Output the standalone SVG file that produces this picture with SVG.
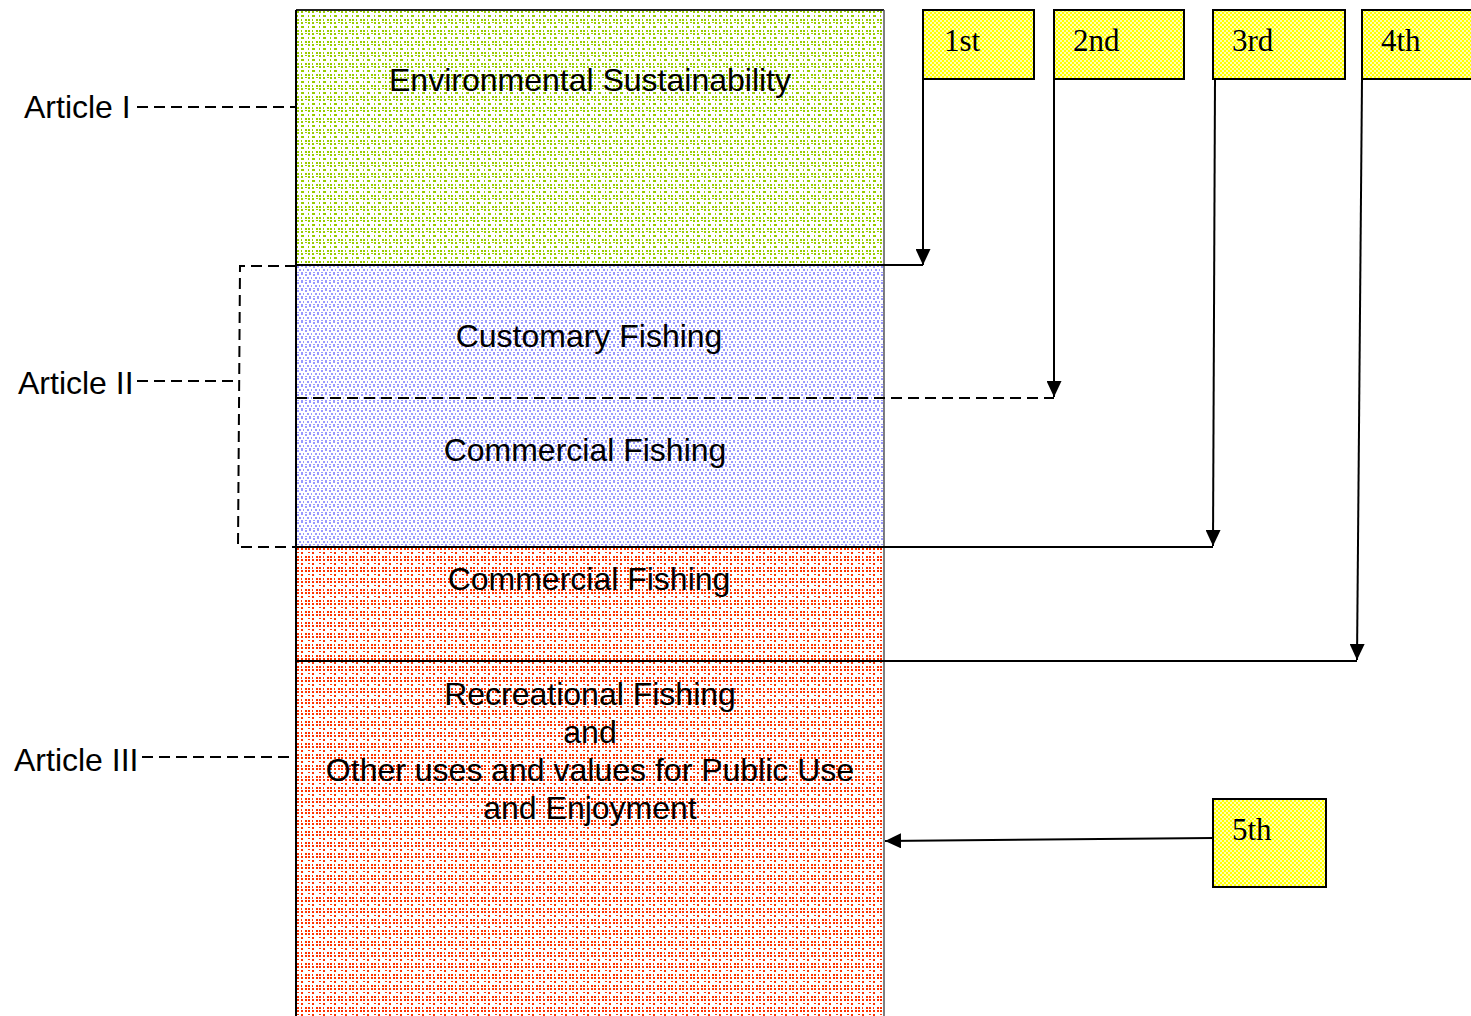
<svg xmlns="http://www.w3.org/2000/svg" width="1471" height="1016" viewBox="0 0 1471 1016">
  <defs>
    <!-- dotted textures for the bands -->
    <pattern id="dotGreen" width="11" height="11" patternUnits="userSpaceOnUse" x="297" y="11">
      <rect width="11" height="11" fill="#ffffff"/>
      <g fill="#99cc00">
        <rect x="0" y="0" width="2" height="2"/><rect x="4" y="0" width="2" height="2"/><rect x="8" y="0" width="2" height="1"/>
        <rect x="0" y="4" width="1" height="2"/><rect x="4" y="4" width="3" height="2"/>
        <rect x="0" y="8" width="2" height="2"/><rect x="4" y="8" width="1" height="2"/><rect x="8" y="8" width="2" height="2"/>
      </g>
    </pattern>
    <pattern id="dotBlue" width="8" height="8" patternUnits="userSpaceOnUse" x="297" y="266">
      <rect width="8" height="8" fill="#ffffff"/>
      <g fill="#9999ff">
        <rect x="0" y="0" width="2" height="2"/><rect x="4" y="0" width="2" height="1"/>
        <rect x="2" y="3" width="2" height="2"/><rect x="6" y="3" width="1" height="2"/>
        <rect x="0" y="6" width="2" height="1"/><rect x="4" y="6" width="2" height="2"/>
      </g>
    </pattern>
    <pattern id="dotRed" width="11" height="11" patternUnits="userSpaceOnUse" x="297" y="548">
      <rect width="11" height="11" fill="#ffffff"/>
      <g fill="#ff3300">
        <rect x="0" y="0" width="2" height="2"/><rect x="4" y="0" width="2" height="2"/><rect x="8" y="0" width="2" height="2"/>
        <rect x="0" y="4" width="2" height="1"/><rect x="4" y="4" width="2" height="2"/>
        <rect x="0" y="8" width="2" height="2"/><rect x="4" y="8" width="1" height="2"/><rect x="8" y="8" width="2" height="2"/>
      </g>
    </pattern>
    <pattern id="checkYellow" width="4" height="4" patternUnits="userSpaceOnUse">
      <rect width="4" height="4" fill="#ffff00"/>
      <rect x="0" y="0" width="2" height="2" fill="#ffffb0"/>
      <rect x="2" y="2" width="2" height="2" fill="#ffffb0"/>
    </pattern>
    <marker id="tip" viewBox="0 0 16 15" refX="16" refY="7.5" markerWidth="16" markerHeight="15" markerUnits="userSpaceOnUse" orient="auto">
      <path d="M0,0 L16,7.5 L0,15 z" fill="#000"/>
    </marker>
  </defs>
  <style>
    .band { stroke: none; }
    .label { font-family: "Liberation Sans", Arial, sans-serif; font-size: 32px; fill: #000; }
    .mid { text-anchor: middle; }
    .flagText { font-family: "Liberation Serif", "Times New Roman", serif; font-size: 31px; fill: #000; }
    .flag { fill: url(#checkYellow); stroke: #000; stroke-width: 2; }
    .solid { fill: none; stroke: #000; stroke-width: 2; }
    .dash { fill: none; stroke: #000; stroke-width: 2; stroke-dasharray: 11 6; }
  </style>

  <rect width="1471" height="1016" fill="#ffffff"/>

  <!-- priority column -->
  <g id="band-environment">
    <rect class="band" x="296" y="10" width="588" height="254" fill="url(#dotGreen)"/>
    <text class="label mid" x="590" y="91">Environmental Sustainability</text>
  </g>
  <g id="band-customary">
    <rect class="band" x="296" y="265" width="588" height="133" fill="url(#dotBlue)"/>
    <text class="label mid" x="589" y="347">Customary Fishing</text>
  </g>
  <g id="band-commercial-2">
    <rect class="band" x="296" y="398" width="588" height="149" fill="url(#dotBlue)"/>
    <text class="label mid" x="585" y="461">Commercial Fishing</text>
  </g>
  <g id="band-commercial-3">
    <rect class="band" x="296" y="547" width="588" height="114" fill="url(#dotRed)"/>
    <text class="label mid" x="589" y="590">Commercial Fishing</text>
  </g>
  <g id="band-recreational">
    <rect class="band" x="296" y="661" width="588" height="355" fill="url(#dotRed)"/>
    <text class="label mid" x="590" y="705">Recreational Fishing</text>
    <text class="label mid" x="590" y="743">and</text>
    <text class="label mid" x="590" y="781">Other uses and values for Public Use</text>
    <text class="label mid" x="590" y="819">and Enjoyment</text>
  </g>

  <!-- column outline -->
  <g id="column-frame">
    <line x1="296" y1="10" x2="884" y2="10" stroke="#222" stroke-width="2"/>
    <line x1="296" y1="10" x2="296" y2="1016" stroke="#000" stroke-width="2"/>
    <line x1="884" y1="10" x2="884" y2="1016" stroke="#555" stroke-width="1.5"/>
  </g>

  <!-- article labels -->
  <g id="article-1">
    <text class="label" x="24" y="118">Article I</text>
  </g>
  <g id="article-2">
    <text class="label" x="18" y="394">Article II</text>
  </g>
  <g id="article-3">
    <text class="label" x="14" y="771">Article III</text>
  </g>

  <!-- priority flags -->
  <g id="flag-1">
    <rect class="flag" x="923" y="10" width="111" height="69"/>
    <text class="flagText" x="944" y="51">1st</text>
  </g>
  <g id="flag-2">
    <rect class="flag" x="1054" y="10" width="130" height="69"/>
    <text class="flagText" x="1073" y="51">2nd</text>
  </g>
  <g id="flag-3">
    <rect class="flag" x="1213" y="10" width="132" height="69"/>
    <text class="flagText" x="1232" y="51">3rd</text>
  </g>
  <g id="flag-4">
    <rect class="flag" x="1362" y="10" width="112" height="69"/>
    <text class="flagText" x="1381" y="51">4th</text>
  </g>
  <g id="flag-5">
    <rect class="flag" x="1213" y="799" width="113" height="88"/>
    <text class="flagText" x="1232" y="840">5th</text>
  </g>

  <g id="connectors">
    <!-- article brackets -->
    <line class="dash" x1="137" y1="107" x2="296" y2="107"/>
    <line class="dash" x1="137" y1="381" x2="239" y2="381"/>
    <path class="dash" d="M296,266 H240 L238,547 H296"/>
    <line class="dash" x1="142" y1="757" x2="296" y2="757"/>

    <!-- band boundaries -->
    <line class="solid" x1="296" y1="265" x2="923" y2="265"/>
    <line class="dash" x1="296" y1="398" x2="1054" y2="398"/>
    <line class="solid" x1="296" y1="547" x2="1213" y2="547"/>
    <line class="solid" x1="296" y1="661" x2="1357" y2="661"/>

    <!-- flag pointers -->
    <line class="solid" x1="923" y1="79" x2="923" y2="265" marker-end="url(#tip)"/>
    <line class="solid" x1="1054" y1="79" x2="1054" y2="397" marker-end="url(#tip)"/>
    <line class="solid" x1="1215" y1="79" x2="1213" y2="546" marker-end="url(#tip)"/>
    <line class="solid" x1="1362" y1="79" x2="1357" y2="660" marker-end="url(#tip)"/>
    <line class="solid" x1="1213" y1="838" x2="885" y2="841" marker-end="url(#tip)"/>
  </g>
</svg>
